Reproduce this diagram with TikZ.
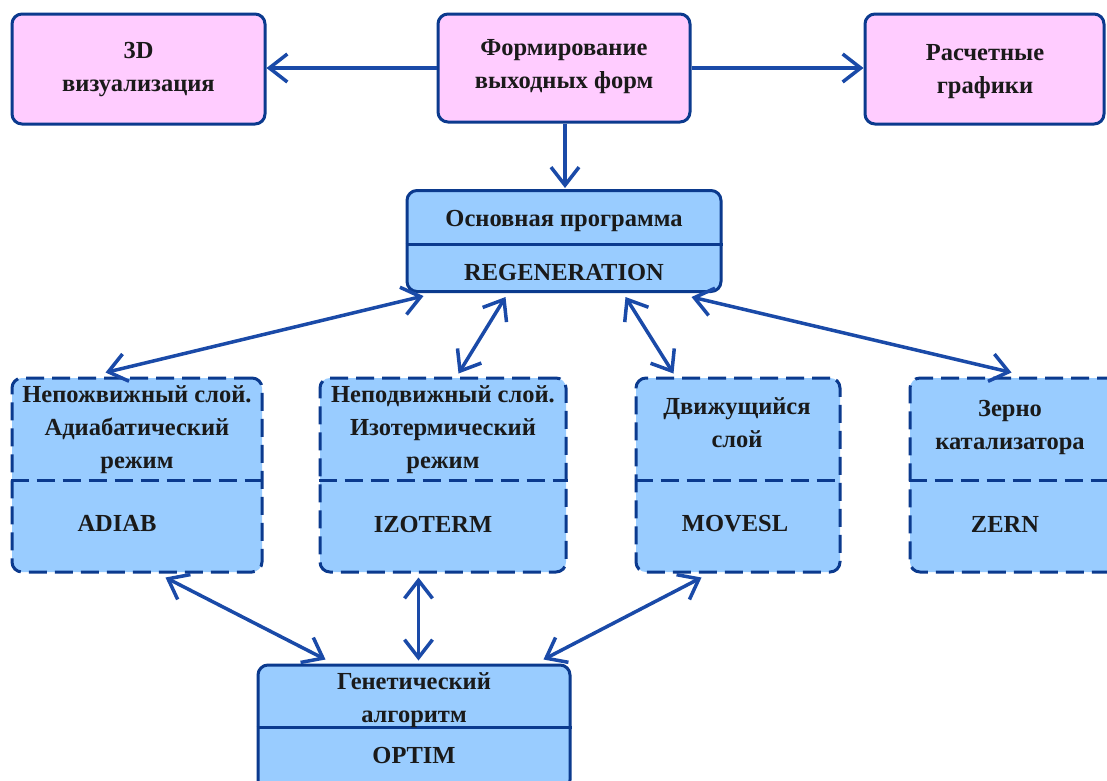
\documentclass[tikz,border=0pt]{standalone}
\usepackage{fontspec}
\setmainfont{Liberation Serif}
\usetikzlibrary{arrows.meta,calc}
\definecolor{pinkfill}{HTML}{FFCCFF}
\definecolor{bluefill}{HTML}{99CCFF}
\definecolor{edgec}{HTML}{0B3A8E}
\definecolor{arrowc}{HTML}{1A4AA8}
\definecolor{txt}{HTML}{1A1A1A}
\begin{document}
\begin{tikzpicture}[x=1pt,y=-1pt,
  box/.style={draw=edgec, line width=3pt, rounded corners=10pt, inner sep=0pt},
  pinkbox/.style={box, fill=pinkfill},
  bluebox/.style={box, fill=bluefill},
  dashbox/.style={box, fill=bluefill, dash pattern=on 18pt off 8pt},
  divider/.style={draw=edgec, line width=3pt},
  lbl/.style={font=\bfseries\fontsize{24.5}{33}\selectfont, text=txt, align=center, inner sep=0pt},
  barb/.tip={Straight Barb[length=18pt,width=28pt]},
  conn/.style={draw=arrowc, line width=3.5pt, -{barb}},
  bi/.style={draw=arrowc, line width=3.5pt, {barb}-{barb}}
]
\useasboundingbox (0,0) rectangle (1107,780);
\clip (0,0) rectangle (1107,780);
\fill[white] (0,0) rectangle (1107,780);

% top row
\node[pinkbox, minimum width=253pt, minimum height=110pt] (viz) at (138.5,69) {};
\node[pinkbox, minimum width=252pt, minimum height=108pt] (form) at (564,68) {};
\node[pinkbox, minimum width=239pt, minimum height=110pt] (graf) at (984.5,69) {};
\node[lbl] (vizt) at (138.5,70) {3D\\визуализация};
\node[lbl] (formt) at (564,67) {Формирование\\выходных форм};
\node[lbl] (graft) at (985,72) {Расчетные\\графики};

% main program
\node[bluebox, minimum width=314pt, minimum height=101pt] (main) at (564,241) {};
\draw[divider] (main.west |- 0,244) -- (main.east |- 0,244);
\node[lbl] (maint) at (564,221) {Основная программа};
\node[lbl] (mainc) at (564,272) {REGENERATION};

% modules
\node[dashbox, minimum width=250pt, minimum height=194pt] (adiab) at (137,475) {};
\node[dashbox, minimum width=246pt, minimum height=194pt] (izo) at (443,475) {};
\node[dashbox, minimum width=204pt, minimum height=194pt] (move) at (738,475) {};
\node[dashbox, minimum width=215pt, minimum height=194pt] (zern) at (1017.5,475) {};
\draw[divider, dash pattern=on 18pt off 8pt] (adiab.west |- 0,480) -- (adiab.east |- 0,480);
\draw[divider, dash pattern=on 18pt off 8pt] (izo.west |- 0,480) -- (izo.east |- 0,480);
\draw[divider, dash pattern=on 18pt off 8pt] (move.west |- 0,480) -- (move.east |- 0,480);
\draw[divider, dash pattern=on 18pt off 8pt] (zern.west |- 0,480) -- (zern.east |- 0,480);

\node[lbl] (adiabt) at (137,430) {Непожвижный слой.\\Адиабатический\\режим};
\node[lbl] (izot) at (443,430) {Неподвижный слой.\\Изотермический\\режим};
\node[lbl] (movet) at (737,423) {Движущийся\\слой};
\node[lbl] (zernt) at (1010,427) {Зерно\\катализатора};
\node[lbl] (adiabc) at (117,523) {ADIAB};
\node[lbl] (izoc) at (433,524) {IZOTERM};
\node[lbl] (movec) at (735,524) {MOVESL};
\node[lbl] (zernc) at (1005,524) {ZERN};

% optimizer
\node[bluebox, minimum width=312pt, minimum height=125pt] (opt) at (414,727.5) {};
\draw[divider] (opt.west |- 0,727) -- (opt.east |- 0,727);
\node[lbl] (optt) at (414,700) {Генетический\\алгоритм};
\node[lbl] (optc) at (414,755) {OPTIM};

% connectors
\draw[conn] (form.west) -- (form.west -| viz.east);
\draw[conn] (form.east) -- (form.east -| graf.west);
\draw[conn] ([xshift=1pt]form.south) -- ([xshift=1pt,yshift=1pt]main.north);

\draw[bi] ([xshift=18pt,yshift=-3pt]main.south west) -- ([xshift=95pt,yshift=4pt]adiab.north west);
\draw[bi] ([xshift=100pt,yshift=-4pt]main.south west) -- ([xshift=140pt,yshift=3pt]izo.north west);
\draw[bi] ([xshift=220pt,yshift=-4pt]main.south west) -- ([xshift=39pt,yshift=3pt]move.north west);
\draw[bi] ([xshift=286pt,yshift=-4pt]main.south west) -- ([xshift=103pt,yshift=4pt]zern.north west);

\draw[bi] ([xshift=155pt,yshift=-4pt]adiab.south west) -- ([xshift=69pt,yshift=4pt]opt.north west);
\draw[bi] ([xshift=100pt,yshift=-4pt]izo.south west) -- ([xshift=162pt,yshift=3pt]opt.north west);
\draw[bi] ([xshift=67pt,yshift=-4pt]move.south west) -- ([xshift=287pt,yshift=4pt]opt.north west);
\end{tikzpicture}
\end{document}
